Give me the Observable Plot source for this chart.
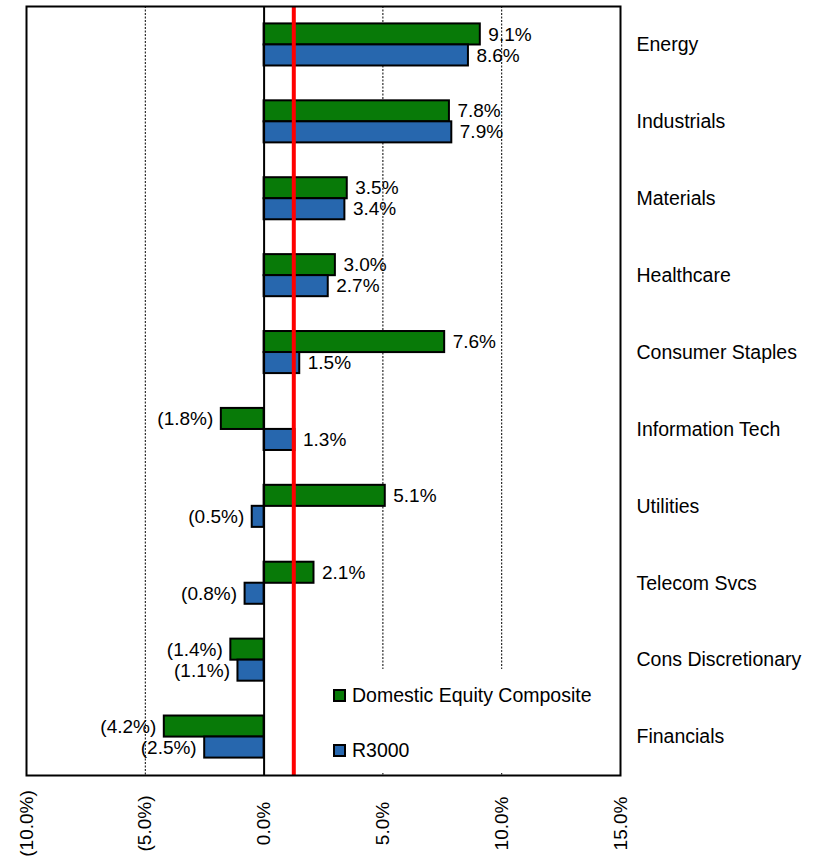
<!DOCTYPE html>
<html><head><meta charset="utf-8">
<script src="https://cdn.jsdelivr.net/npm/d3@7"></script>
<script src="https://cdn.jsdelivr.net/npm/@observablehq/plot@0.6"></script>
<style>
body{margin:0;background:#fff;font-family:"Liberation Sans",Arial,sans-serif;}
#wrap{position:relative;width:829px;height:863px;}
#legend{position:absolute;left:322px;top:669px;width:296px;height:104px;background:#fff;}
.item{position:absolute;left:11px;height:22px;display:flex;align-items:center;font-size:19.5px;color:#000;white-space:nowrap;}
.sw{width:9px;height:9px;border:2px solid #000;margin-right:6px;}
</style></head><body>
<div id="wrap"></div>
<script>
const categories = ["Energy","Industrials","Materials","Healthcare","Consumer Staples","Information Tech","Utilities","Telecom Svcs","Cons Discretionary","Financials"];
const domestic = [9.1, 7.8, 3.5, 3.0, 7.6, -1.8, 5.1, 2.1, -1.4, -4.2];
const r3000 = [8.6, 7.9, 3.4, 2.7, 1.5, 1.3, -0.5, -0.8, -1.1, -2.5];
const seriesNames = ["Domestic Equity Composite", "R3000"];
const seriesColors = ["#087A08", "#2767AE"];
const xTicks = [-10, -5, 0, 5, 10, 15];
const gridTicks = [-5, 5, 10];
const benchmark = [1.25];

const data = categories.map((c, i) => ({cat: c, dom: domestic[i], r3: r3000[i]}));
const fmt = v => v < 0 ? `(${Math.abs(v).toFixed(1)}%)` : `${v.toFixed(1)}%`;
const ff = "'Liberation Sans', Arial, sans-serif";

const chart = Plot.plot({
  width: 829, height: 863,
  marginLeft: 26, marginRight: 209, marginTop: 6, marginBottom: 88,
  style: {fontFamily: ff, background: "#fff", color: "#000"},
  x: {domain: [-10, 15]},
  y: {domain: categories, paddingInner: 0.453, paddingOuter: 0.2265, round: false},
  marks: [
    Plot.ruleX(gridTicks, {stroke: "#000", strokeWidth: 1, strokeDasharray: "2,1.5"}),
    Plot.barX(data, {x: "dom", y: "cat", fill: seriesColors[0], stroke: "#000", strokeWidth: 2, insetBottom: 21}),
    Plot.barX(data, {x: "r3", y: "cat", fill: seriesColors[1], stroke: "#000", strokeWidth: 2, insetTop: 21}),
    Plot.text(data.filter(d => d.dom >= 0), {x: "dom", y: "cat", text: d => fmt(d.dom), dy: -10.5, dx: 8, textAnchor: "start", fontSize: 19, fill: "#000"}),
    Plot.text(data.filter(d => d.dom < 0), {x: "dom", y: "cat", text: d => fmt(d.dom), dy: -10.5, dx: -8, textAnchor: "end", fontSize: 19, fill: "#000"}),
    Plot.text(data.filter(d => d.r3 >= 0), {x: "r3", y: "cat", text: d => fmt(d.r3), dy: 10.5, dx: 8, textAnchor: "start", fontSize: 19, fill: "#000"}),
    Plot.text(data.filter(d => d.r3 < 0), {x: "r3", y: "cat", text: d => fmt(d.r3), dy: 10.5, dx: -8, textAnchor: "end", fontSize: 19, fill: "#000"}),
    Plot.ruleX([0], {stroke: "#000", strokeWidth: 2}),
    Plot.ruleX(benchmark, {stroke: "#ff0000", strokeWidth: 4}),
    Plot.frame({stroke: "#000", strokeWidth: 2}),
    Plot.axisY({anchor: "right", tickSize: 0, tickPadding: 16, fontSize: 19.5, label: null}),
    Plot.axisX({ticks: xTicks, tickFormat: fmt, tickSize: 0, tickRotate: -90, textAnchor: "middle", tickPadding: 48, fontSize: 19, label: null})
  ]
});
const wrap = document.getElementById("wrap");
wrap.appendChild(chart);
const legend = document.createElement("div");
legend.id = "legend";
const tops = [15, 70];
seriesNames.forEach((n, i) => {
  const it = document.createElement("div");
  it.className = "item";
  it.style.top = tops[i] + "px";
  const sw = document.createElement("span");
  sw.className = "sw";
  sw.style.background = seriesColors[i];
  const t = document.createElement("span");
  t.textContent = n;
  it.appendChild(sw); it.appendChild(t);
  legend.appendChild(it);
});
wrap.appendChild(legend);
</script>
</body></html>
